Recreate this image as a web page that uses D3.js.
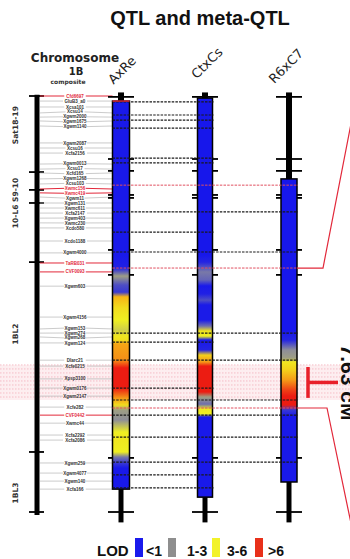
<!DOCTYPE html>
<html><head><meta charset="utf-8">
<script src="https://cdn.jsdelivr.net/npm/d3@7"></script>
<style>body{margin:0;background:#fff}svg{display:block}</style>
</head><body><svg id="c" width="350" height="559"></svg>
<script>
// ---------------- DATA ----------------
const title = "QTL and meta-QTL";
const markerNames = ["Cfd6697","GluB3_a0","Xcsa101","Xcsu14","Xgwm2000","Xgwm1675","Xgwm1140",
 "Xgwm2087","Xcsu16","Xcfa2156","Xgwm0013","Xcsu17","Xcfd165","Xgwm1268","Xcsu103","Xwmc156","Xwmc419",
 "Xgwm11","Xgwm131","Xwmc611","Xcfa2147","Xgwm403","Xwmc230","Xcdo580","Xcdo1188","Xgwm4000","TaRB031","CVF0093",
 "Xgwm603","Xgwm4156","Xgwm153","Xgwm274","Xgwm268","Xgwm124","Dlarc21","Xcfe0215","Xpsp3100","Xgwm0176",
 "Xgwm2147","Xcfe282","CVF0442","Xwmc44","Xcfa2292","Xcfa2086","Xgwm259","Xgwm4077","Xgwm140","Xcfa166"];
const markerPos = [0,1.7,3.7,5.7,7.1,8.4,10.1,
 15.8,17.5,19.2,22.9,24.6,25.9,27.9,29.6,31.3,32.6,
 34.0,36.0,37.7,39.4,41.1,42.7,44.4,48.8,52.8,56.2,59.2,
 64.0,74.4,78.4,79.8,81.1,83.1,88.9,90.9,95.2,98.3,
 101.0,104.7,107.4,110.1,114.1,115.8,123.5,126.9,129.6,132.3];
const redMarkers = ["Cfd6697","Xwmc156","Xwmc419","TaRB031","CVF0093","CVF0442"];
const chromTicks = [0,25.6,31.6,36.0,55.9,119.8,140];
const sections = ["Sat18-19","10-L6 S9-10","1BL2","1BL3"];
const sectionPos = [9.8,36.0,80.1,133.6];

const columns = ["AxRe","CtxCs","R6xC7"];
const colStart = [1.7,0.7,27.9];
const colEnd = [132.3,135.0,129.9];
const colTicks = [0.3,21.2,25.2,33.3,34.3,51.8,60.2,121.8,140];

// LOD profiles along each population's map (position in cM, LOD)
const axrePos = [1.7,53.5,57.9,60.6,63.6,66.0,67.6,71.3,75.4,78.7,80.8,82.1,83.5,88.9,91.5,98.3,101.7,104.0,105.7,109.0,113.1,115.8,119.8,121.5,123.5,125.2,132.3];
const axreLod = [0.3,0.3,0.6,2.0,1.2,1.0,4.5,3.5,3.0,2.6,3.2,3.4,4.8,5.2,7.0,7.0,5.0,3.5,2.0,1.8,3.0,3.2,3.0,1.6,1.0,0.3,0.3];
const ctxcsPos = [0.7,53.5,55.9,59.2,61.9,63.9,66.6,68.7,70.3,75.4,77.4,79.1,80.8,82.1,85.5,87.2,89.5,90.9,95.6,97.6,99.6,101.3,103.7,105.3,107.0,108.0,135.0];
const ctxcsLod = [0.2,0.2,0.8,1.6,1.4,0.3,0.6,1.2,0.4,0.4,1.5,3.3,3.0,0.3,0.8,3.8,5.0,7.0,7.0,7.5,7.0,2.0,1.5,3.2,3.0,0.3,0.3];
const r6Pos = [27.9,78.7,82.1,85.5,88.2,89.5,92.2,95.6,99.0,101.0,104.0,105.7,107.7,129.9];
const r6Lod = [0.2,0.2,0.8,1.8,2.0,3.2,3.8,5.0,6.5,7.0,7.0,1.0,0.3,0.3];

// common-marker links (position, last column reached, red = meta-QTL border)
const linkPos = [2.0,6.4,8.1,10.8,20.9,22.5,30.0,39.0,45.8,52.5,57.9,79.8,82.8,88.9,98.3,102.3,105.0,107.4,114.8,123.2,127.5,131.9];
const linkTo  = [1,1,1,1,1,1,2,2,1,2,2,2,1,2,1,2,2,2,2,2,1,1];
const linkRed = [0,0,0,0,0,0,1,0,0,0,1,0,0,0,0,0,1,0,0,0,0,0];

const metaStart = 90.5, metaEnd = 102.3, metaTStart = 91.2, metaTEnd = 101.6, metaLabel = "7.63 cM";
const lodLabels = ["<1","1-3","3-6",">6"];

// ---------------- STYLE ----------------
const legendColors = ["#1a1aec","#8e8e8e","#f2f22a","#e8301a"];
const RED = "#e2283a";
const svg = d3.select("#c");
const y = d3.scaleLinear().domain([0,140]).range([96,512]);
const x = d3.scalePoint().domain(columns).range([121,289]);
const colW = {AxRe:17, CtxCs:15, R6xC7:16};
const chromX = 37;
const lodColor = d3.scaleLinear()
  .domain([0,0.8,1.8,3,4.5,6,7])
  .range(["#1212ee","#2424e2","#8e8e98","#efef22","#f7b515","#f2641a","#ec1c12"]).clamp(true);

// title
svg.append("text").attr("x",200).attr("y",25).attr("text-anchor","middle")
  .attr("font-family","Liberation Sans, Arial, sans-serif").attr("font-weight","bold")
  .attr("font-size",20).attr("fill","#111").text(title);

// meta-QTL band
const band = svg.append("g");
band.append("rect").attr("x",0).attr("width",350).attr("y",y(metaStart))
  .attr("height",y(metaEnd)-y(metaStart)).attr("fill","#fdeef0");
band.selectAll("line").data(d3.range(metaStart,metaEnd,1.35)).join("line")
  .attr("x1",0).attr("x2",350).attr("y1",d=>y(d)).attr("y2",d=>y(d))
  .attr("stroke","#f2a8b4").attr("stroke-width",0.7).attr("stroke-dasharray","1.5,1.5");

// chromosome header
const hf = "DejaVu Sans, sans-serif";
svg.append("text").attr("x",75).attr("y",62).attr("text-anchor","middle").attr("font-family",hf)
  .attr("font-weight","bold").attr("font-size",12).attr("fill","#222").text("Chromosome");
svg.append("text").attr("x",76).attr("y",75).attr("text-anchor","middle").attr("font-family",hf)
  .attr("font-weight","bold").attr("font-size",10).attr("fill","#222").text("1B");
svg.append("text").attr("x",68).attr("y",83.5).attr("text-anchor","middle").attr("font-family",hf)
  .attr("font-weight","bold").attr("font-size",6).attr("fill","#333").text("composite");

// column labels
const labelOff = {AxRe:[1,-26], CtxCs:[2,-33], R6xC7:[-3,-30]};
svg.selectAll("text.col").data(columns).join("text").attr("class","col")
  .attr("transform",d=>`translate(${x(d)+labelOff[d][0]},${y(0)+labelOff[d][1]}) rotate(-45)`)
  .attr("text-anchor","middle").attr("dominant-baseline","central")
  .attr("font-family",hf).attr("font-size",13).attr("fill","#222").text(d=>d);

// section labels
svg.selectAll("text.sec").data(sections).join("text").attr("class","sec")
  .attr("transform",(d,i)=>`translate(18,${y(sectionPos[i])}) rotate(-90)`)
  .attr("text-anchor","middle").attr("font-family",hf).attr("font-size",7.5)
  .attr("font-weight","bold").attr("fill","#333").text(d=>d);

// composite chromosome
svg.append("line").attr("x1",chromX).attr("x2",chromX).attr("y1",y(-0.4)).attr("y2",y(141))
  .attr("stroke","#000").attr("stroke-width",5);
svg.selectAll("line.ct").data(chromTicks).join("line").attr("class","ct")
  .attr("x1",chromX-8).attr("x2",chromX+7).attr("y1",d=>y(d)).attr("y2",d=>y(d))
  .attr("stroke","#000").attr("stroke-width",1.8);

// markers, with labels spread so they do not collide
const markers = markerNames.map((n,i)=>({name:n,pos:markerPos[i],red:redMarkers.includes(n)}));
const ly = markers.map(d=>y(d.pos));
const gap = 4.9;
for (let it=0; it<300; it++) {
  for (let i=1;i<ly.length;i++) {
    const dd = ly[i]-ly[i-1];
    if (dd<gap) { const p=(gap-dd)/2; ly[i]+=p; ly[i-1]-=p; }
  }
}
markers.forEach((d,i)=>d.ly=ly[i]);
const mg = svg.append("g");
const axLeft = x("AxRe")-colW.AxRe/2;
mg.selectAll("path").data(markers).join("path")
  .attr("d",d=>{const yy=y(d.pos);const w=d.name.length*2.5/2;
     return `M${chromX+3},${yy}L${75-w-2},${d.ly}M${75+w+2},${d.ly}L${axLeft},${yy}`;})
  .attr("fill","none").attr("stroke",d=>d.red?RED:"#b4b4b4").attr("stroke-width",d=>d.red?1:0.7);
mg.selectAll("text").data(markers).join("text")
  .attr("x",75).attr("y",d=>d.ly).attr("dy","0.35em").attr("text-anchor","middle")
  .attr("font-family","Liberation Sans, Arial, sans-serif").attr("font-size",4.5).attr("font-weight","bold")
  .attr("fill",d=>d.red?RED:"#333").text(d=>d.name);

// column stems and ticks
const cols = columns.map((c,i)=>({name:c,start:colStart[i],end:colEnd[i],
  pos:[axrePos,ctxcsPos,r6Pos][i], lod:[axreLod,ctxcsLod,r6Lod][i]}));
cols.forEach(c=>{
  const cx = x(c.name);
  svg.append("line").attr("x1",cx).attr("x2",cx).attr("y1",y(-1.2)).attr("y2",y(c.start)+1)
    .attr("stroke","#000").attr("stroke-width",6);
  svg.append("line").attr("x1",cx).attr("x2",cx).attr("y1",y(c.end)).attr("y2",y(143.5))
    .attr("stroke","#000").attr("stroke-width",5);
  svg.append("g").selectAll("line").data(colTicks).join("line")
    .attr("x1",cx-13).attr("x2",cx+13).attr("y1",d=>y(d)).attr("y2",d=>y(d))
    .attr("stroke","#000").attr("stroke-width",1.8);
});

// LOD bars with gradients
const defs = svg.append("defs");
cols.forEach((c,i)=>{
  const g = defs.append("linearGradient").attr("id","g"+i).attr("x1",0).attr("y1",0).attr("x2",0).attr("y2",1);
  c.pos.forEach((p,j)=>g.append("stop").attr("offset",(p-c.start)/(c.end-c.start)).attr("stop-color",lodColor(c.lod[j])));
  const w = colW[c.name];
  svg.append("rect").attr("x",x(c.name)-w/2).attr("width",w).attr("y",y(c.start))
    .attr("height",y(c.end)-y(c.start)).attr("fill",`url(#g${i})`)
    .attr("stroke","#000").attr("stroke-width",1.5);
});

// links between populations
const links = linkPos.map((p,i)=>({pos:p,to:linkTo[i],red:!!linkRed[i]}));
svg.append("g").selectAll("line").data(links).join("line")
  .attr("x1",x("AxRe")-colW.AxRe/2).attr("x2",d=>x(columns[d.to])+colW[columns[d.to]]/2+1)
  .attr("y1",d=>y(d.pos)).attr("y2",d=>y(d.pos))
  .attr("stroke",d=>d.red?"#e05060":"#1a1a1a").attr("stroke-width",d=>d.red?1:1.2)
  .attr("stroke-dasharray","2.5,1.2");
svg.append("line").attr("x1",axLeft).attr("x2",x("AxRe")+colW.AxRe/2).attr("y1",y(colStart[0])).attr("y2",y(colStart[0]))
  .attr("stroke",RED).attr("stroke-width",1.4);

// zoom bracket lines
const r6Right = x("R6xC7")+colW.R6xC7/2;
const redPos = links.filter(d=>d.red).map(d=>d.pos);
svg.append("path").attr("d",`M${r6Right},${y(redPos[1])}L${r6Right+26},${y(redPos[1])}L${r6Right+64},${y(-8)}`)
  .attr("fill","none").attr("stroke",RED).attr("stroke-width",1.2);
svg.append("path").attr("d",`M${r6Right},${y(redPos[2])}L${r6Right+30},${y(redPos[2])}L${r6Right+64},${y(160)}`)
  .attr("fill","none").attr("stroke",RED).attr("stroke-width",1.2);

// meta-QTL interval marker
const tx = r6Right + 11;
const mid = (metaTStart+metaTEnd)/2;
svg.append("line").attr("x1",tx).attr("x2",tx).attr("y1",y(metaTStart)).attr("y2",y(metaTEnd))
  .attr("stroke","#e8202a").attr("stroke-width",3.5);
svg.append("line").attr("x1",tx).attr("x2",tx+30).attr("y1",y(mid)).attr("y2",y(mid))
  .attr("stroke","#e8202a").attr("stroke-width",3.5);
svg.append("text").attr("transform",`translate(341,${y(mid)}) rotate(90)`).attr("text-anchor","middle")
  .attr("font-family","Liberation Sans, Arial, sans-serif").attr("font-weight","bold")
  .attr("font-size",21).attr("fill","#111").text(metaLabel);

// legend
const lg = svg.append("g").attr("font-family","Liberation Sans, Arial, sans-serif").attr("fill","#111");
lg.append("text").attr("x",97).attr("y",556).attr("font-size",15).attr("font-weight","bold").text("LOD");
const itemX = [135,168,212,255];
const textOff = [11,19,15,13];
lodLabels.forEach((l,i)=>{
  lg.append("rect").attr("x",itemX[i]).attr("y",538).attr("width",8).attr("height",19).attr("fill",legendColors[i]);
  lg.append("text").attr("x",itemX[i]+textOff[i]).attr("y",556).attr("font-size",14)
    .attr("font-weight","bold").text(l);
});
</script></body></html>
